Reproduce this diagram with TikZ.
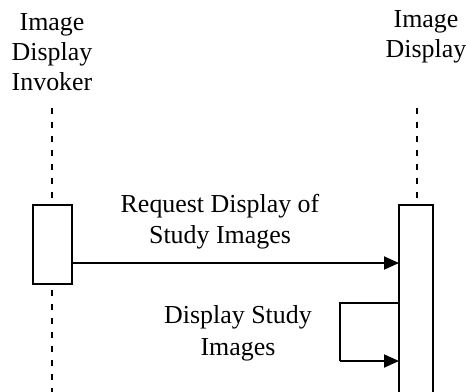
\documentclass[tikz,border=0pt]{standalone}
\usepackage{fontspec}
\setmainfont{Liberation Serif}
\usetikzlibrary{arrows.meta}
\begin{document}
\begin{tikzpicture}[x=1bp,y=-1bp,
  lbl/.style={font=\fontsize{26}{30}\selectfont,align=center,inner sep=0pt,anchor=base},
  life/.style={line width=1.6bp,dash pattern=on 6bp off 8bp},
  act/.style={draw,line width=1.6bp,fill=white},
  msg/.style={line width=2bp,-{Triangle[length=15bp,width=13bp]}}]
\useasboundingbox (0,0) rectangle (467,391);
% actor labels
\node[lbl] (invA) at (52,30) {Image};
\node[lbl] (invB) at (52,60) {Display};
\node[lbl] (invC) at (52,90) {Invoker};
\node[lbl] (dispA) at (426,27) {Image};
\node[lbl] (dispB) at (426,57) {Display};
% lifelines
\coordinate (l1) at (52,108);
\coordinate (l1e) at (52,395);
\coordinate (l2) at (417,108);
\coordinate (l2e) at (417,205);
\draw[life] (l1) -- (l1e);
\draw[life] (l2) -- (l2e);
% activation boxes
\draw[act] (33,205) rectangle (72,284);
\draw[act] (399,205) rectangle (433,400);
\coordinate (m1s) at (72,263);
\coordinate (m1e) at (399,263);
\draw[msg] (m1s) -- (m1e);
\node[lbl] (t1a) at (220,212) {Request Display of};
\node[lbl] (t1b) at (220,243) {Study Images};
\coordinate (s1) at (399,303);
\coordinate (s2) at (340,303);
\coordinate (s3) at (340,361);
\coordinate (s4) at (399,361);
\draw[line width=2bp] (s1) -- (s2) -- (s3);
\draw[msg] (s3) -- (s4);
\node[lbl] (t2a) at (238,323) {Display Study};
\node[lbl] (t2b) at (238,355) {Images};
\end{tikzpicture}
\end{document}
